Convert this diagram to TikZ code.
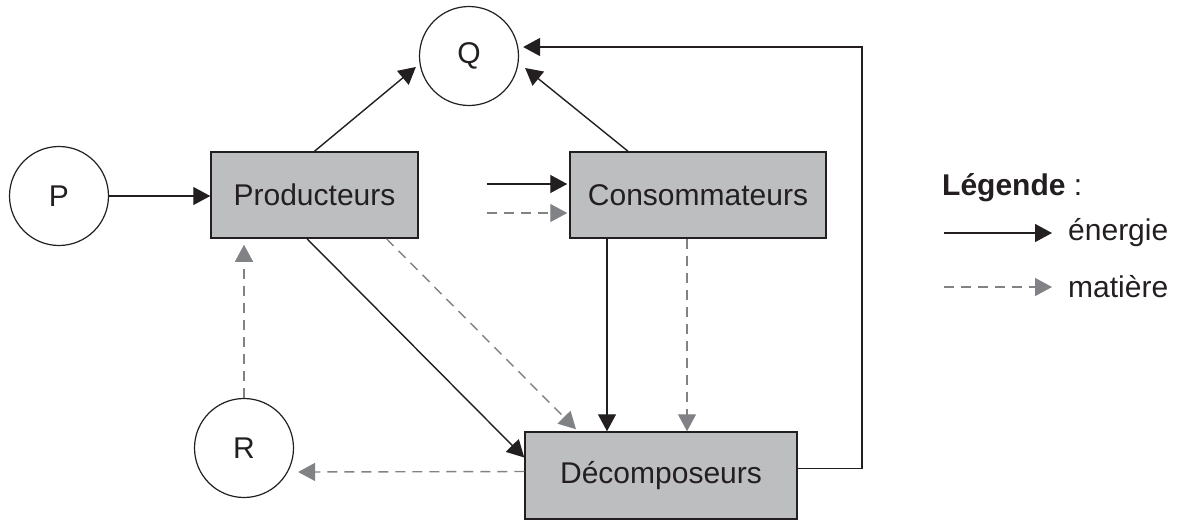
\documentclass[tikz,border=0pt]{standalone}
\usepackage{fontspec}
\setmainfont{Liberation Sans}
\usetikzlibrary{arrows.meta}
\definecolor{boxgray}{HTML}{BCBEC0}
\definecolor{arrowgray}{HTML}{808285}
\definecolor{ink}{HTML}{231F20}
\tikzset{
  box/.style = {draw=ink,line width=1.5pt,fill=boxgray,inner sep=0pt},
  puits/.style = {circle,draw=ink,line width=1.2pt,minimum size=99pt,inner sep=0pt},
  energie/.style = {->,draw=ink,line width=1.4pt},
  matiere/.style = {->,draw=arrowgray,line width=1.4pt,dash pattern=on 10pt off 7pt}
}
\tikzset{>={Triangle[length=17pt,width=18pt]}}

\begin{document}
\begin{tikzpicture}[x=1pt,y=-1pt,text=ink,font=\fontsize{30}{35}\selectfont]
  \useasboundingbox (0,0) rectangle (1185,523);
  \node[puits] (P) at (59,196) {P};
  \node[puits] (Q) at (469,56) {Q};
  \node[puits] (R) at (244,448) {R};
  \node[box,minimum width=207pt,minimum height=86pt] (prod) at (314.5,195) {Producteurs};
  \node[box,minimum width=256pt,minimum height=86pt] (cons) at (698,195) {Consommateurs};
  \node[box,minimum width=272pt,minimum height=87pt] (decomp) at (661,475.5) {Décomposeurs};
  % flux d'energie
  \draw[energie] (P) -- (P -| prod.west);
  \draw[energie] (prod.north) -- ([xshift=-3pt,yshift=-11pt]Q.west);
  \draw[energie] ([xshift=-70pt]cons.north) -- ([xshift=6pt,yshift=-12pt]Q.east);
  \draw[energie] ([xshift=68pt,yshift=11pt]prod.east) -- ([xshift=-2pt,yshift=11pt]cons.west);
  \draw[energie] ([xshift=-7.5pt]prod.south) -- ([yshift=18pt]decomp.west);
  \draw[energie] ([xshift=-91pt]cons.south) -- ([xshift=-54pt]decomp.north);
  \coordinate (coin) at (862,47);
  \draw[energie] ([yshift=7pt]decomp.east) -| (coin) -- ([xshift=4pt,yshift=9pt]Q.east);
  % flux de matiere
  \draw[matiere] ([xshift=68pt,yshift=-18pt]prod.east) -- ([xshift=-2pt,yshift=-18pt]cons.west);
  \draw[matiere] ([xshift=72pt]prod.south) -- ([xshift=-85pt,yshift=2pt]decomp.north);
  \draw[matiere] ([xshift=-11pt]cons.south) -- ([xshift=26pt]decomp.north);
  \draw[matiere] ([yshift=4pt]decomp.west) -- ([xshift=4pt,yshift=-24pt]R.east);
  \draw[matiere] (R.north) -- ([xshift=-70.5pt,yshift=-6pt]prod.south);
  % legende
  \node[anchor=west,inner sep=0pt] (leg) at (942,188) {\textbf{Légende} :};
  \node[anchor=west,inner sep=0pt] (en) at (1068,233) {énergie};
  \node[anchor=west,inner sep=0pt] (ma) at (1068,287) {matière};
  \coordinate (en0) at (944,233);
  \coordinate (ma0) at (944,287);
  \draw[energie] (en0) -- ([xshift=-16pt]en.west);
  \draw[matiere] (ma0) -- ([xshift=-16pt]ma.west);
\end{tikzpicture}
\end{document}
